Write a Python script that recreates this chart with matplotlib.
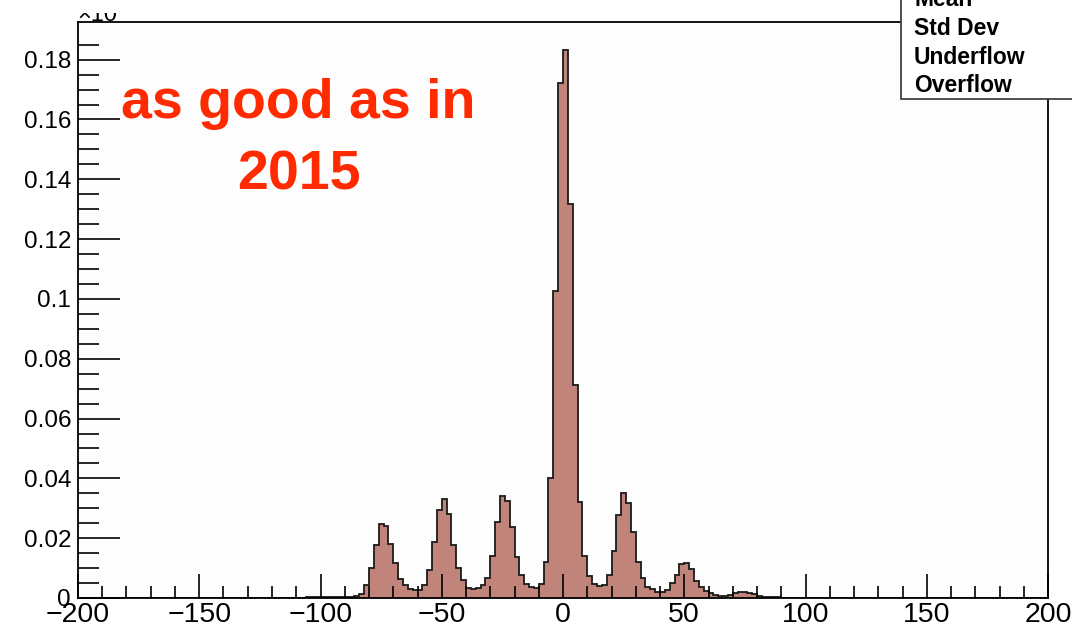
import numpy as np
import matplotlib.pyplot as plt
from matplotlib.patches import Rectangle

plt.rcParams['font.family'] = ['Liberation Sans', 'DejaVu Sans']

# bin contents, 2-unit bins starting at -106
# (every other bin between -200 and 200 is empty)
first_edge = -106
bin_width = 2
contents = [
    0.0002, 0.0002, 0.0002, 0.0002, 0.0002, 0.0002, 0.0002, 0.0002,   # -106 .. -92
    0.0003, 0.0005, 0.0008, 0.0013, 0.0043, 0.0099, 0.0177, 0.0246,   # -90 .. -76
    0.0240, 0.0180, 0.0118, 0.0064, 0.0042, 0.0030, 0.0027, 0.0027,   # -74 .. -60
    0.0043, 0.0094, 0.0188, 0.0294, 0.0331, 0.0280, 0.0177, 0.0099,   # -58 .. -44
    0.0060, 0.0035, 0.0029, 0.0032, 0.0043, 0.0066, 0.0140, 0.0255,   # -42 .. -28
    0.0342, 0.0324, 0.0239, 0.0138, 0.0077, 0.0047, 0.0038, 0.0034,   # -26 .. -12
    0.0046, 0.0121, 0.0400, 0.1027, 0.1723, 0.1833, 0.1318, 0.0712,   # -10 .. 4
    0.0320, 0.0140, 0.0074, 0.0047, 0.0040, 0.0042, 0.0077, 0.0157,   # 6 .. 20
    0.0278, 0.0350, 0.0319, 0.0222, 0.0122, 0.0066, 0.0038, 0.0029,   # 22 .. 36
    0.0021, 0.0021, 0.0027, 0.0049, 0.0077, 0.0113, 0.0118, 0.0096,   # 38 .. 52
    0.0058, 0.0038, 0.0024, 0.0016, 0.0010, 0.0007, 0.0007, 0.0010,   # 54 .. 68
    0.0016, 0.0020, 0.0021, 0.0018, 0.0013, 0.0007, 0.0005, 0.0003,   # 70 .. 84
    0.0003, 0.0003, 0.0001,                                           # 86 .. 90
]

x_range = (-200, 200)
y_max = 0.1926
x_ticks = [-200, -150, -100, -50, 0, 50, 100, 150, 200]
y_ticks = [0, 0.02, 0.04, 0.06, 0.08, 0.1, 0.12, 0.14, 0.16, 0.18]
y_tick_labels = ["0", "0.02", "0.04", "0.06", "0.08", "0.1", "0.12", "0.14", "0.16", "0.18"]
stats_labels = ["Mean", "Std Dev", "Underflow", "Overflow"]
note_lines = ["as good as in", "2015"]

edges = np.arange(x_range[0], x_range[1] + bin_width, bin_width)
values = np.zeros(len(edges) - 1)
start = (first_edge - x_range[0]) // bin_width
values[start:start + len(contents)] = contents

W, H = 1072, 628
fig = plt.figure(figsize=(W / 100, H / 100), dpi=100)
ax = fig.add_axes([78 / W, 1 - 598 / H, (1048 - 78) / W, (598 - 22) / H])
ax.set_facecolor('#fdfdfd')

ax.stairs(values, edges, fill=True, color='#c0847a', lw=0)
ax.stairs(values, edges, color='#1a1a1a', lw=1.3)

ax.set_xlim(*x_range)
ax.set_ylim(0, y_max)
ax.set_xticks(x_ticks)
ax.set_xticks(np.arange(-200, 201, 10), minor=True)
ax.set_yticks(y_ticks, y_tick_labels)
ax.set_yticks(np.arange(0, 0.19, 0.005), minor=True)

ax.tick_params(direction='in', top=False, right=False, width=1.2, color='black', which='both')
ax.tick_params(axis='x', which='major', length=17, labelsize=20.5, pad=3)
ax.tick_params(axis='x', which='minor', length=9)
ax.tick_params(axis='y', which='major', length=30, labelsize=17.5, pad=5)
ax.tick_params(axis='y', which='minor', length=15)
for s in ax.spines.values():
    s.set_linewidth(1.3)

# red note
red = '#ff2a00'
fig.text(298 / W, 1 - 118 / H, note_lines[0], ha='center', va='baseline',
         fontsize=40, fontweight='bold', color=red)
fig.text(299 / W, 1 - 190 / H, note_lines[1], ha='center', va='baseline',
         fontsize=40, fontweight='bold', color=red)

# exponent label, top half hidden by the title pave
fig.text(77 / W, 1 - 21 / H, "×10", ha='left', va='baseline', fontsize=17)
fig.patches.append(Rectangle((0, 1 - 13 / H), 901 / W, 13 / H + 0.01,
                             transform=fig.transFigure, facecolor='white',
                             edgecolor='none', zorder=5))

# stats box (cut off at the top and right)
fig.patches.append(Rectangle((901 / W, 1 - 99 / H), (W - 901) / W + 0.01, 99 / H + 0.01,
                             transform=fig.transFigure, facecolor='white',
                             edgecolor='#333333', lw=1.2, zorder=5))
for i, lab in enumerate(stats_labels):
    fig.text(914 / W, 1 - (6.5 + 28.5 * i) / H, lab, ha='left', va='baseline',
             fontsize=16.5, fontweight='bold', zorder=6)

fig.savefig('out.png', dpi=100)
